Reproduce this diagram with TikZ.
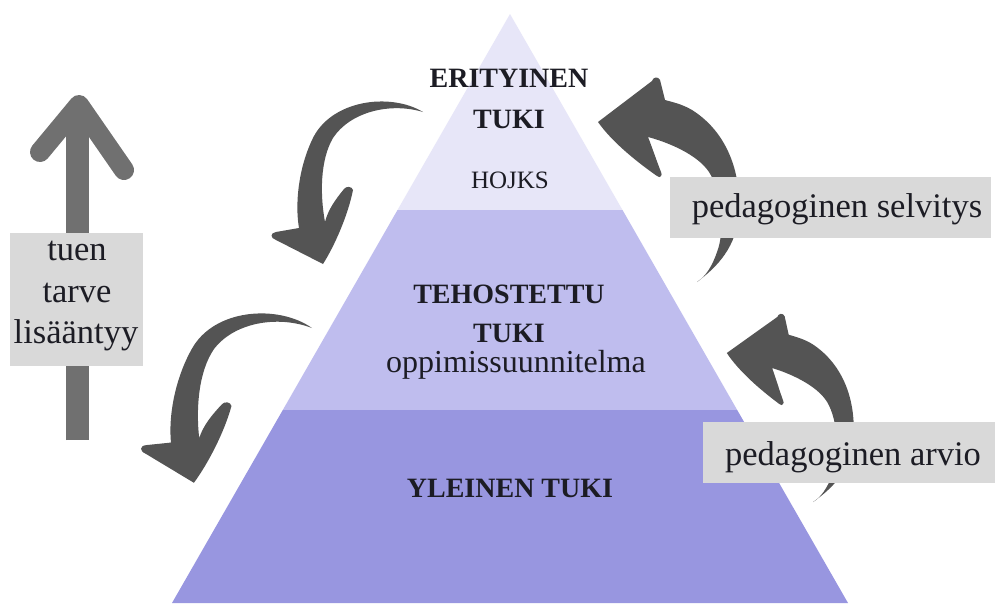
\documentclass[tikz,border=0pt]{standalone}
\usepackage{fontspec}
\setmainfont{Liberation Serif}
\definecolor{layA}{HTML}{E7E6F8}
\definecolor{layB}{HTML}{BFBDEE}
\definecolor{layC}{HTML}{9896E0}
\definecolor{darr}{HTML}{545454}
\definecolor{uparr}{HTML}{707070}
\definecolor{boxg}{HTML}{D9D9D9}
\definecolor{txt}{HTML}{1C1C24}
\begin{document}
\begin{tikzpicture}[x=1pt,y=-1pt,
  lbl/.style={inner sep=0pt, anchor=base, text=txt},
  capb/.style={lbl, font=\fontsize{28}{30}\selectfont\bfseries},
  lowr/.style={lbl, font=\fontsize{34.5}{36}\selectfont},
  graybox/.style={fill=boxg, draw=none},
  pics/curlA/.style={code={
    \fill[darr] (0,0)
      .. controls (-33,-20) and (-93,-12) .. (-111,28)
      .. controls (-125,58) and (-128,93) .. (-124,116)
      -- (-147,120)
      .. controls (-153,121) and (-153,126) .. (-147,128)
      -- (-100,152)
      .. controls (-88,133) and (-75,103) .. (-70,78)
      .. controls (-71,74) and (-77,74) .. (-79,77)
      .. controls (-88,88) and (-95,98) .. (-98,110)
      .. controls (-103,83) and (-103,48) .. (-90,26)
      .. controls (-73,0) and (-33,-10) .. (0,0) -- cycle;
  }},
  pics/curlC/.style={code={
    \fill[darr] (0,0)
      .. controls (20,-15) and (40,-35) .. (42,-70)
      .. controls (44,-110) and (30,-150) .. (-5,-172)
      .. controls (-15,-178) and (-25,-180) .. (-32,-182)
      -- (-37,-202)
      .. controls (-39,-206) and (-44,-205) .. (-45,-201)
      -- (-99,-160)
      .. controls (-85,-140) and (-60,-120) .. (-40,-106)
      .. controls (-37,-103) and (-34,-107) .. (-36,-110)
      .. controls (-40,-120) and (-45,-135) .. (-49,-145)
      .. controls (-30,-140) and (0,-128) .. (12,-110)
      .. controls (25,-90) and (28,-50) .. (20,-30)
      .. controls (15,-15) and (8,-5) .. (0,0) -- cycle;
  }}
]
\useasboundingbox (0,0) rectangle (995,603);
\fill[white] (0,0) rectangle (995,603);

% pyramid layers
\coordinate (apex) at (510,14);
\coordinate (l1) at (397.5,210);
\coordinate (r1) at (622.5,210);
\coordinate (l2) at (282.8,410);
\coordinate (r2) at (737.2,410);
\coordinate (bl) at (172,603);
\coordinate (br) at (848,603);
\fill[layA] (apex) -- (r1) -- (l1) -- cycle;
\fill[layB] (l1) -- (r1) -- (r2) -- (l2) -- cycle;
\fill[layC] (l2) -- (r2) -- (br) -- (bl) -- cycle;

% texts in pyramid
\node[capb] (t1) at (509,87) {ERITYINEN};
\node[capb] (t2) at (509,128) {TUKI};
\node[lbl, font=\fontsize{25}{27}\selectfont] (t3) at (510,188) {HOJKS};
\node[capb] (t4) at (509,303) {TEHOSTETTU};
\node[capb] (t5) at (509,342) {TUKI};
\node[lbl, font=\fontsize{32}{34}\selectfont] (t6) at (516,372) {oppimissuunnitelma};
\node[capb] (t7) at (510,497) {YLEINEN TUKI};

% curved arrows
\pic at (423,112) {curlA};
\pic[rotate=-4, scale=1.07] at (312,328) {curlA};
\pic at (697,282) {curlC};
\pic[rotate=-1.7, scale=0.915] at (813,502) {curlC};

% up arrow
\coordinate (ubot) at (77,440);
\coordinate (utop) at (79,105);
\coordinate (ubl) at (40,152);
\coordinate (ubr) at (124,170);
\draw[uparr, line width=23pt] (ubot) -- (77,110);
\draw[uparr, line width=20pt, line cap=round, line join=round] (ubl) -- (utop) -- (ubr);

% boxes
\fill[graybox] (10,233) rectangle (143,366);
\node[lowr] (b1) at (77,260) {tuen};
\node[lowr] (b2) at (77,302) {tarve};
\node[lowr] (b3) at (76,343) {lisääntyy};

\fill[graybox] (670,177) rectangle (991,238);
\node[lowr] (s1) at (837,217) {pedagoginen selvitys};

\fill[graybox] (703,422) rectangle (995,483);
\node[lowr] (s2) at (853,465) {pedagoginen arvio};
\end{tikzpicture}
\end{document}
